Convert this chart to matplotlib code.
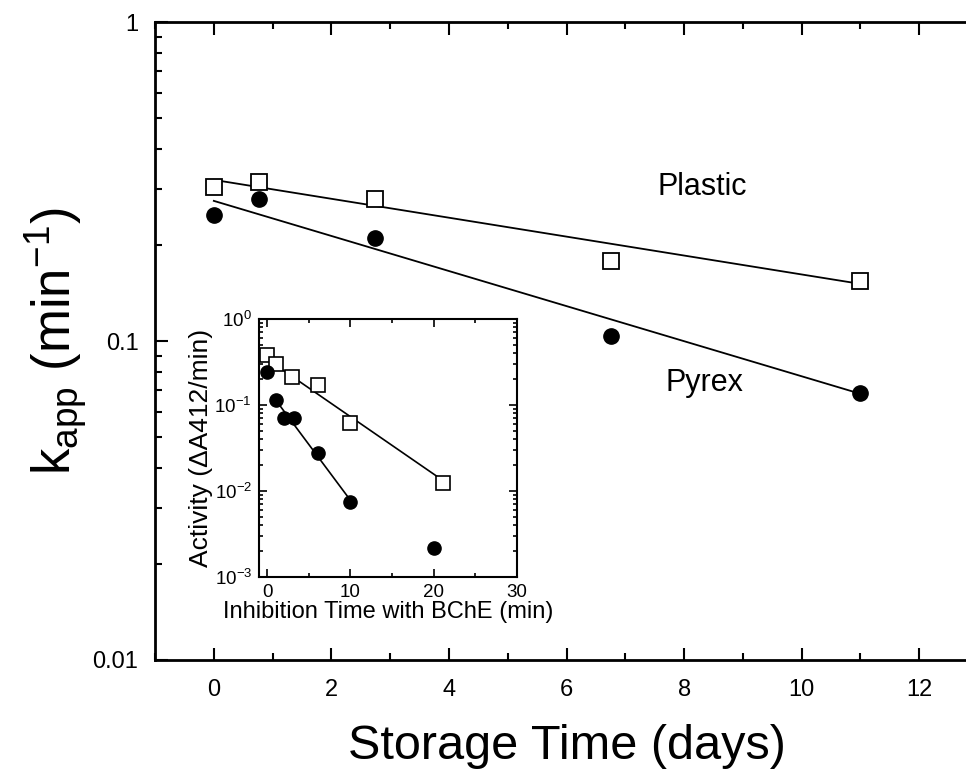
import numpy as np
import matplotlib
matplotlib.use("Agg")
import matplotlib.pyplot as plt
from matplotlib.ticker import FixedLocator, FixedFormatter, LogLocator, NullFormatter, MultipleLocator

plt.rcParams["font.family"] = ["Liberation Sans", "DejaVu Sans"]
plt.rcParams["mathtext.fontset"] = "custom"
plt.rcParams["mathtext.rm"] = "Liberation Sans"
plt.rcParams["mathtext.it"] = "Liberation Sans:italic"

# main panel: k_app vs storage time
storage_days = [0.0, 0.77, 2.75, 6.75, 11.0]
kapp_plastic = [0.304, 0.315, 0.279, 0.178, 0.154]
kapp_pyrex = [0.248, 0.279, 0.210, 0.104, 0.0687]
fit_days = [0.0, 11.0]
fit_plastic = [0.320, 0.151]
fit_pyrex = [0.275, 0.0683]

# inset: activity vs inhibition time
inhib_sq = [0.0, 1.1, 3.0, 6.1, 10.0, 21.1]
act_sq = [0.384, 0.30, 0.211, 0.169, 0.0612, 0.0125]
inhib_ci = [0.0, 1.0, 2.0, 3.2, 6.1, 10.0, 20.0]
act_ci = [0.239, 0.115, 0.070, 0.070, 0.0279, 0.0075, 0.0022]
fit_sq_x = [0.4, 21.0]
fit_sq_y = [0.32, 0.0135]
fit_ci_x = [1.0, 10.0]
fit_ci_y = [0.115, 0.0078]

fig = plt.figure(figsize=(9.66, 7.73), dpi=100)
ax = fig.add_axes([0.1605, 0.1462, 0.852, 0.8253])

ax.plot(fit_days, fit_plastic, color="black", lw=1.3)
ax.plot(fit_days, fit_pyrex, color="black", lw=1.3)
ax.plot(storage_days, kapp_plastic, ls="none", marker="s", ms=11,
        mfc="white", mec="black", mew=1.3)
ax.plot(storage_days, kapp_pyrex, ls="none", marker="o", ms=11,
        mfc="black", mec="black")

ax.set_yscale("log")
ax.set_ylim(0.01, 1)
ax.set_xlim(-1, 13)
ax.xaxis.set_major_locator(MultipleLocator(2))
ax.xaxis.set_minor_locator(MultipleLocator(1))
ax.yaxis.set_major_locator(FixedLocator([0.01, 0.1, 1]))
ax.yaxis.set_major_formatter(FixedFormatter(["0.01", "0.1", "1"]))
ax.yaxis.set_minor_locator(LogLocator(base=10, subs=np.arange(2, 10)))
ax.yaxis.set_minor_formatter(NullFormatter())
ax.tick_params(which="both", direction="in", top=True, right=True, width=1.5)
ax.tick_params(which="major", length=9, labelsize=17)
ax.tick_params(axis="x", which="major", pad=14)
ax.tick_params(axis="y", which="major", pad=12)
ax.tick_params(which="minor", length=5)
for s in ax.spines.values():
    s.set_linewidth(2)

ax.set_xlabel("Storage Time (days)", fontsize=35, labelpad=16)
ax.set_ylabel(r"k$_{\rm app}$ (min$^{-1}$)", fontsize=38, labelpad=2)

ax.text(8.3, 0.305, "Plastic", fontsize=22, ha="center", va="center")
ax.text(8.35, 0.074, "Pyrex", fontsize=22, ha="center", va="center")

# inset
ins = fig.add_axes([0.268, 0.2536, 0.267, 0.3337])
ins.plot(fit_sq_x, fit_sq_y, color="black", lw=1.2)
ins.plot(fit_ci_x, fit_ci_y, color="black", lw=1.2)
ins.plot(inhib_sq, act_sq, ls="none", marker="s", ms=10,
         mfc="white", mec="black", mew=1.2)
ins.plot(inhib_ci, act_ci, ls="none", marker="o", ms=9.5,
         mfc="black", mec="black")
ins.set_yscale("log")
ins.set_ylim(1e-3, 1)
ins.set_xlim(-1, 30)
ins.xaxis.set_major_locator(MultipleLocator(10))
ins.xaxis.set_minor_locator(MultipleLocator(5))
ins.yaxis.set_minor_locator(LogLocator(base=10, subs=np.arange(2, 10)))
ins.yaxis.set_minor_formatter(NullFormatter())
ins.tick_params(which="both", direction="in", top=True, right=True, width=1.2)
ins.tick_params(which="major", length=6, labelsize=13.5, pad=5)
ins.tick_params(which="minor", length=3)
for s in ins.spines.values():
    s.set_linewidth(1.5)
ins.set_xlabel("Inhibition Time with BChE (min)", fontsize=17, labelpad=0)
ins.set_ylabel("Activity (ΔA412/min)", fontsize=19, labelpad=1)

fig.savefig("out.png", dpi=100)
